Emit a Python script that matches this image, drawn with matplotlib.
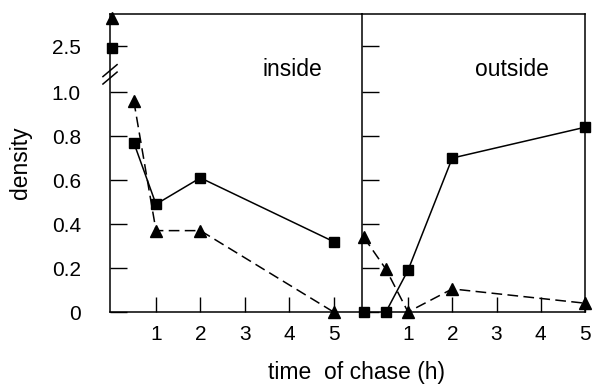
import numpy as np
import matplotlib.pyplot as plt

plt.rcParams['font.family'] = ['Liberation Sans', 'DejaVu Sans']

# данные: время (ч) и плотность
t_in_sq = [0, 0.5, 1, 2, 5]
d_in_sq = [2.48, 0.77, 0.49, 0.61, 0.32]
t_in_tri = [0, 0.5, 1, 2, 5]
d_in_tri = [2.87, 0.96, 0.37, 0.37, 0.0]

t_out_sq = [0, 0.5, 1, 2, 5]
d_out_sq = [0.0, 0.0, 0.19, 0.70, 0.84]
t_out_tri = [0, 0.5, 1, 2, 5]
d_out_tri = [0.34, 0.195, 0.0, 0.105, 0.04]

yticks = [0, 0.2, 0.4, 0.6, 0.8, 1.0, 2.5]
yticklabels = ['0', '0.2', '0.4', '0.6', '0.8', '1.0', '2.5']
xticks = [1, 2, 3, 4, 5]


# разорванная ось y
def fwd(y):
    y = np.asarray(y, dtype=float)
    mid = 1.1 + (y - 1.1) * (0.04 / 1.2)
    hi = 1.14 + (y - 2.3) * 0.345
    return np.where(y <= 1.1, y, np.where(y <= 2.3, mid, hi))


def inv(p):
    p = np.asarray(p, dtype=float)
    mid = 1.1 + (p - 1.1) * (1.2 / 0.04)
    hi = 2.3 + (p - 1.14) / 0.345
    return np.where(p <= 1.1, p, np.where(p <= 1.14, mid, hi))


fig = plt.figure(figsize=(5.93, 3.88), dpi=100)
ax1 = fig.add_axes([110 / 593, 76 / 388, 252 / 593, 298 / 388])
ax2 = fig.add_axes([362 / 593, 76 / 388, 223 / 593, 298 / 388])

ms_sq = 7.5
ms_tri = 9

# inside
ax1.plot(t_in_sq[1:], d_in_sq[1:], '-', color='black', lw=1.1, clip_on=False)
ax1.plot(t_in_sq, d_in_sq, 's', color='black', ms=ms_sq, clip_on=False)
ax1.plot(t_in_tri[1:], d_in_tri[1:], '--', color='black', lw=1.1,
         dashes=(7, 3.5), clip_on=False)
ax1.plot(t_in_tri, d_in_tri, '^', color='black', ms=ms_tri, clip_on=False)

# outside
ax2.plot(t_out_sq[1:], d_out_sq[1:], '-', color='black', lw=1.1, clip_on=False)
ax2.plot(t_out_sq, d_out_sq, 's', color='black', ms=ms_sq, clip_on=False)
ax2.plot(t_out_tri, d_out_tri, '--', color='black', lw=1.1,
         dashes=(7, 3.5), clip_on=False)
ax2.plot(t_out_tri, d_out_tri, '^', color='black', ms=ms_tri, clip_on=False)

for ax in (ax1, ax2):
    ax.set_yscale('function', functions=(fwd, inv))
    ax.set_ylim(0, inv(1.355))
    ax.set_yticks(yticks)
    ax.set_xticks(xticks)
    ax.tick_params(axis='y', direction='in', length=12.5, width=1, pad=21,
                   labelsize=15)
    ax.tick_params(axis='x', direction='in', length=11, width=1, pad=9,
                   labelsize=15)
    ax.minorticks_off()
    for s in ax.spines.values():
        s.set_linewidth(1.1)

ax1.set_xlim(-0.036, 5.64)
ax2.set_xlim(-0.04, 5.0)
ax1.set_yticklabels(yticklabels)
ax2.set_yticklabels([])
ax1.spines['right'].set_visible(False)

# значки разрыва оси
for dy in (0.0, 0.025):
    ax1.plot([-0.028, 0.028], [0.79 - dy, 0.83 - dy], transform=ax1.transAxes,
             color='black', lw=1.1, clip_on=False)

ax1.text(0.725, 0.815, 'inside', transform=ax1.transAxes, ha='center',
         va='center', fontsize=16.5)
ax2.text(0.673, 0.815, 'outside', transform=ax2.transAxes, ha='center',
         va='center', fontsize=16.5)

ax1.set_ylabel('density', fontsize=16.5, labelpad=14)
fig.text(357 / 593, 1 - 372 / 388, 'time  of chase (h)', ha='center',
         va='center', fontsize=16.5)

fig.savefig('out.png', dpi=100)
